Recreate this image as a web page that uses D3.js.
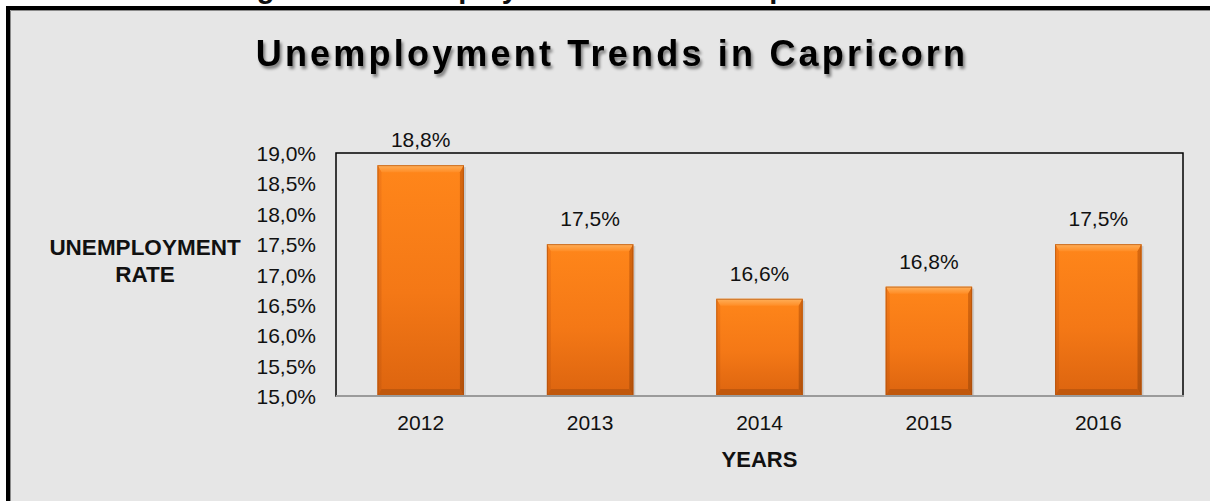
<!DOCTYPE html>
<html>
<head>
<meta charset="utf-8">
<script src="https://cdn.jsdelivr.net/npm/d3@7"></script>
<style>
  html, body { margin: 0; padding: 0; background: #fff; }
  svg { display: block; }
  text { font-family: "Liberation Sans", Arial, sans-serif; fill: #111; }
</style>
</head>
<body>
<svg id="chart" width="1210" height="501"></svg>
<script>
// Unemployment rate by year, Capricorn
const years = ["2012", "2013", "2014", "2015", "2016"];
const rates = [18.8, 17.5, 16.6, 16.8, 17.5];
const yTicks = [15.0, 15.5, 16.0, 16.5, 17.0, 17.5, 18.0, 18.5, 19.0];

const captionText = "Figure 12: Unemployment Trends in Capricorn";
const titleText = "Unemployment Trends in Capricorn";
const yTitleLines = ["UNEMPLOYMENT", "RATE"];
const xTitleText = "YEARS";

const fmt = v => v.toFixed(1).replace(".", ",") + "%";

const svg = d3.select("#chart");
const W = 1210, H = 501;
const plot = { left: 336, right: 1183, top: 153, bottom: 396 };

const defs = svg.append("defs");

// title shadow
const sh = defs.append("filter").attr("id", "tshadow")
  .attr("x", "-5%").attr("y", "-30%").attr("width", "110%").attr("height", "160%");
sh.append("feDropShadow").attr("dx", 2).attr("dy", 3).attr("stdDeviation", 1.8)
  .attr("flood-color", "#000").attr("flood-opacity", 0.45);

// bar body gradient
const gBody = defs.append("linearGradient").attr("id", "barBody")
  .attr("x1", 0).attr("y1", 0).attr("x2", 0).attr("y2", 1);
gBody.append("stop").attr("offset", "0%").attr("stop-color", "#ff861a");
gBody.append("stop").attr("offset", "55%").attr("stop-color", "#f47816");
gBody.append("stop").attr("offset", "100%").attr("stop-color", "#dc640f");

const gTop = defs.append("linearGradient").attr("id", "barTop")
  .attr("x1", 0).attr("y1", 0).attr("x2", 0).attr("y2", 1);
gTop.append("stop").attr("offset", "0%").attr("stop-color", "#ffb05a");
gTop.append("stop").attr("offset", "100%").attr("stop-color", "#ff8d26");

const gSideL = defs.append("linearGradient").attr("id", "barLeft")
  .attr("x1", 0).attr("y1", 0).attr("x2", 0).attr("y2", 1);
gSideL.append("stop").attr("offset", "0%").attr("stop-color", "#f47a18");
gSideL.append("stop").attr("offset", "100%").attr("stop-color", "#cf5d0e");

const gSideR = defs.append("linearGradient").attr("id", "barRight")
  .attr("x1", 0).attr("y1", 0).attr("x2", 0).attr("y2", 1);
gSideR.append("stop").attr("offset", "0%").attr("stop-color", "#d8680f");
gSideR.append("stop").attr("offset", "100%").attr("stop-color", "#b5520b");

// page caption running above the frame
svg.append("text")
  .attr("x", 231).attr("y", -2)
  .style("font-size", "29px").style("font-weight", "bold")
  .text(captionText);

// chart frame
svg.append("rect")
  .attr("x", 8).attr("y", 8).attr("width", W + 40).attr("height", H + 40)
  .attr("fill", "#e6e6e6").attr("stroke", "#000").attr("stroke-width", 4);
svg.append("path")
  .attr("d", `M10.5,${H + 20}V10.5H${W + 20}`)
  .attr("fill", "none").attr("stroke", "#8a8a8a").attr("stroke-width", 1);

// title
svg.append("text")
  .attr("x", 612).attr("y", 66)
  .attr("text-anchor", "middle")
  .attr("filter", "url(#tshadow)")
  .style("font-size", "36px").style("font-weight", "bold")
  .style("letter-spacing", "3.2px")
  .style("fill", "#000")
  .text(titleText);

const x = d3.scaleBand().domain(years).range([plot.left, plot.right]).paddingInner(0.49).paddingOuter(0.245);
const y = d3.scaleLinear().domain([15, 19]).range([plot.bottom, plot.top]);

// plot area outline
svg.append("rect")
  .attr("x", plot.left).attr("y", plot.top)
  .attr("width", plot.right - plot.left).attr("height", plot.bottom - plot.top)
  .attr("fill", "none").attr("stroke", "#000").attr("stroke-width", 1.5);

// y axis labels
const yAxis = svg.append("g")
  .attr("transform", `translate(${plot.left - 20},0)`)
  .call(d3.axisLeft(y).tickValues(yTicks).tickFormat(fmt).tickSize(0).tickPadding(0));
yAxis.select(".domain").remove();
yAxis.selectAll("text")
  .style("font-family", '"Liberation Sans", Arial, sans-serif')
  .style("font-size", "21px").attr("fill", "#111").attr("dy", "0.36em");

// bars with bevelled edges
const bev = 7, side = 4;
const bars = svg.append("g").selectAll("g").data(years.map((yr, i) => ({ yr, v: rates[i] })))
  .join("g");

bars.append("rect")
  .attr("x", d => x(d.yr) + 2).attr("y", d => y(d.v) + 2)
  .attr("width", x.bandwidth()).attr("height", d => y(15) - y(d.v) - 2)
  .attr("fill", "#000").attr("opacity", 0.12);

bars.append("rect")
  .attr("x", d => x(d.yr)).attr("y", d => y(d.v))
  .attr("width", x.bandwidth()).attr("height", d => y(15) - y(d.v))
  .attr("fill", "url(#barBody)");

// top bevel
bars.append("path")
  .attr("d", d => {
    const x0 = x(d.yr), x1 = x0 + x.bandwidth(), t = y(d.v);
    return `M${x0},${t}H${x1}L${x1 - side},${t + bev}H${x0 + side}Z`;
  })
  .attr("fill", "url(#barTop)");
// left bevel
bars.append("path")
  .attr("d", d => {
    const x0 = x(d.yr), t = y(d.v), b = y(15);
    return `M${x0},${t}L${x0 + side},${t + bev}V${b - bev}L${x0},${b}Z`;
  })
  .attr("fill", "url(#barLeft)").attr("opacity", 0.85);
// right bevel
bars.append("path")
  .attr("d", d => {
    const x1 = x(d.yr) + x.bandwidth(), t = y(d.v), b = y(15);
    return `M${x1},${t}L${x1 - side},${t + bev}V${b - bev}L${x1},${b}Z`;
  })
  .attr("fill", "url(#barRight)");
// bottom bevel
bars.append("path")
  .attr("d", d => {
    const x0 = x(d.yr), x1 = x0 + x.bandwidth(), b = y(15);
    return `M${x0},${b}H${x1}L${x1 - side},${b - bev}H${x0 + side}Z`;
  })
  .attr("fill", "#b9550c").attr("opacity", 0.8);
// outline
bars.append("rect")
  .attr("x", d => x(d.yr) + 0.5).attr("y", d => y(d.v) + 0.5)
  .attr("width", x.bandwidth() - 1).attr("height", d => y(15) - y(d.v) - 1)
  .attr("fill", "none").attr("stroke", "#a84c0c").attr("stroke-opacity", 0.6).attr("stroke-width", 1);

// value labels
svg.append("g").selectAll("text").data(years.map((yr, i) => ({ yr, v: rates[i] })))
  .join("text")
  .attr("x", d => x(d.yr) + x.bandwidth() / 2)
  .attr("y", d => y(d.v) - 18)
  .attr("text-anchor", "middle")
  .style("font-size", "21px")
  .text(d => fmt(d.v));

// x axis baseline and labels
svg.append("line")
  .attr("x1", plot.left).attr("x2", plot.right + 1)
  .attr("y1", plot.bottom).attr("y2", plot.bottom)
  .attr("stroke", "#9b9b9b").attr("stroke-width", 2);

const xAxis = svg.append("g")
  .attr("transform", `translate(0,${plot.bottom})`)
  .call(d3.axisBottom(x).tickSize(0).tickPadding(19));
xAxis.select(".domain").remove();
xAxis.selectAll("text")
  .style("font-family", '"Liberation Sans", Arial, sans-serif')
  .style("font-size", "21px").attr("fill", "#111");

// axis titles
svg.append("text")
  .attr("x", (plot.left + plot.right) / 2).attr("y", 467)
  .attr("text-anchor", "middle")
  .style("font-size", "22px").style("font-weight", "bold")
  .text(xTitleText);

svg.append("g").selectAll("text").data(yTitleLines).join("text")
  .attr("x", 145).attr("y", (d, i) => 255 + i * 27)
  .attr("text-anchor", "middle")
  .style("font-size", "22.5px").style("font-weight", "bold")
  .text(d => d);
</script>
</body>
</html>
